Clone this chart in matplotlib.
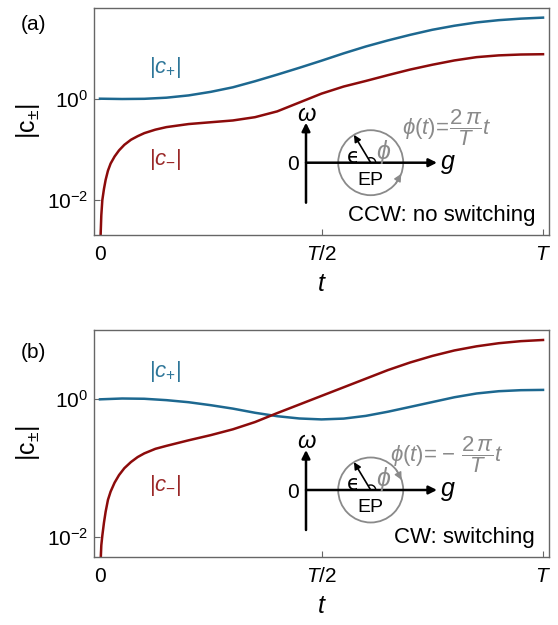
import numpy as np
import matplotlib
matplotlib.use('Agg')
import matplotlib.pyplot as plt
from matplotlib.patches import Circle, Arc

plt.rcParams['font.family'] = ['Liberation Sans', 'DejaVu Sans']
plt.rcParams['mathtext.fontset'] = 'custom'
plt.rcParams['mathtext.rm'] = 'Liberation Sans'
plt.rcParams['mathtext.it'] = 'Liberation Sans:italic'
plt.rcParams['mathtext.fallback'] = 'stixsans'

# time in units of T
t_plus = [0.0, 0.05, 0.10, 0.15, 0.20, 0.25, 0.30, 0.35, 0.40, 0.45, 0.50,
          0.55, 0.60, 0.65, 0.70, 0.75, 0.80, 0.85, 0.90, 0.95, 1.0]

# (a) counter-clockwise loop
c_plus_a = [1.000, 0.986, 0.995, 1.047, 1.161, 1.365, 1.679, 2.213, 2.985, 4.074, 5.623,
            7.852, 10.72, 14.13, 18.20, 22.91, 27.54, 31.99, 35.48, 38.02, 39.81]

t_minus_a = [0.0008, 0.0015, 0.003, 0.0053, 0.009, 0.0128, 0.018, 0.024, 0.033, 0.043,
             0.055, 0.07, 0.085, 0.10, 0.125, 0.15, 0.20, 0.25, 0.30, 0.35, 0.40,
             0.45, 0.50, 0.55, 0.60, 0.65, 0.70, 0.75, 0.80, 0.85, 0.90, 0.95, 1.0]
c_minus_a = [0.0010, 0.00209, 0.00501, 0.0100, 0.0166, 0.0251, 0.0380, 0.0525, 0.0724, 0.0955,
             0.123, 0.155, 0.182, 0.209, 0.245, 0.275, 0.316, 0.343, 0.372, 0.432, 0.562,
             0.841, 1.259, 1.738, 2.239, 2.917, 3.758, 4.677, 5.689, 6.607, 7.161, 7.447, 7.551]

# (b) clockwise loop
c_plus_b = [1.000, 1.028, 1.019, 0.973, 0.908, 0.822, 0.733, 0.638, 0.569, 0.527, 0.511,
            0.525, 0.575, 0.661, 0.776, 0.912, 1.072, 1.216, 1.312, 1.358, 1.371]

t_minus_b = [0.0008, 0.0015, 0.003, 0.0053, 0.009, 0.0128, 0.018, 0.024, 0.033, 0.043,
             0.055, 0.07, 0.085, 0.10, 0.125, 0.15, 0.20, 0.25, 0.30, 0.35, 0.40,
             0.45, 0.50, 0.55, 0.60, 0.65, 0.70, 0.75, 0.80, 0.85, 0.90, 0.95, 1.0]
c_minus_b = [0.00200, 0.00447, 0.00759, 0.0105, 0.0162, 0.0234, 0.0347, 0.0457, 0.0617, 0.0794,
             0.100, 0.123, 0.145, 0.164, 0.191, 0.211, 0.254, 0.302, 0.367, 0.468, 0.631,
             0.841, 1.122, 1.496, 1.995, 2.661, 3.428, 4.266, 5.129, 5.888, 6.531, 6.998, 7.278]

xticks = [0, 0.5, 1.0]
xticklabels = ['0', r'$T/2$', r'$T$']
yticks = [1e-2, 1e0]
yticklabels = [r'$10^{-2}$', r'$10^{0}$']

BLUE = '#1d6890'
RED = '#8c0b0b'
BLUE_LBL = '#2e7699'
RED_LBL = '#9a2828'
GRAY = '#8a8a8a'
FRAME = '#666666'

W, H = 558, 625
fig = plt.figure(figsize=(W / 100, H / 100), dpi=100)


def make_axes(top_px, ylo, yhi):
    ax = fig.add_axes([94 / W, 1 - (top_px + 227) / H, 455 / W, 227 / H])
    ax.set_yscale('log')
    ax.set_xlim(-0.0135, 1.0135)
    ax.set_ylim(ylo, yhi)
    ax.set_xticks(xticks)
    ax.set_xticklabels(xticklabels)
    ax.set_yticks(yticks)
    ax.set_yticklabels(yticklabels)
    ax.yaxis.set_minor_locator(matplotlib.ticker.NullLocator())
    ax.tick_params(direction='in', length=4, width=0.8, color=FRAME, labelsize=15)
    ax.tick_params(axis='x', pad=7)
    ax.tick_params(axis='y', pad=4)
    for s in ax.spines.values():
        s.set_color(FRAME)
        s.set_linewidth(1.0)
    ax.set_xlabel(r'$t$', fontsize=18, labelpad=6)
    ax.set_ylabel(r'$|\mathrm{c}_{\pm}|$', fontsize=18, labelpad=4)
    return ax


ax_a = make_axes(8, 10 ** -2.69, 10 ** 1.79)
ax_a.plot(t_plus, c_plus_a, color=BLUE, lw=1.8)
ax_a.plot(t_minus_a, c_minus_a, color=RED, lw=1.8)

ax_b = make_axes(330, 10 ** -2.29, 10 ** 1.007)
ax_b.plot(t_plus, c_plus_b, color=BLUE, lw=1.8)
ax_b.plot(t_minus_b, c_minus_b, color=RED, lw=1.8)

# overlay in pixel coordinates for the annotations
ov = fig.add_axes([0, 0, 1, 1])
ov.set_xlim(0, W)
ov.set_ylim(H, 0)
ov.axis('off')
ov.patch.set_alpha(0)


def arrow(x0, y0, x1, y1, color='black', lw=1.8, ms=12):
    ov.annotate('', xy=(x1, y1), xytext=(x0, y0),
                arrowprops=dict(arrowstyle='-|>', color=color, lw=lw,
                                mutation_scale=ms, shrinkA=0, shrinkB=0))


def diagram(ox, oy, ccw, formula):
    arrow(ox, oy + 40, ox, oy - 40)
    arrow(ox, oy, ox + 131, oy)
    ov.text(ox + 1, oy - 48, r'$\omega$', fontsize=17, ha='center', va='center')
    ov.text(ox - 13, oy + 2, '0', fontsize=15, ha='center', va='center')
    ov.text(ox + 142, oy + 1, r'$g$', fontsize=18, ha='center', va='center')
    cx, cy, r = ox + 64.7, oy, 32.5
    ov.add_patch(Circle((cx, cy), r, fill=False, ec=GRAY, lw=1.3))
    ang = np.deg2rad(121)
    arrow(cx, cy, cx + r * np.cos(ang), cy - r * np.sin(ang), lw=1.2, ms=10)
    ov.add_patch(Arc((cx, cy), 10, 10, theta1=-121, theta2=0, color='black', lw=1.0))
    ov.text(cx - 17, cy - 6, '\u03f5', fontsize=15, ha='center', va='center',
            family=['DejaVu Sans'])
    ov.text(cx + 13, cy - 11, r'$\phi$', fontsize=18, ha='center', va='center', color=GRAY)
    ov.text(cx, cy + 18, 'EP', fontsize=14, ha='center', va='center')
    # direction head on the loop
    if ccw:
        a0, a1 = np.deg2rad(-40), np.deg2rad(-20)
    else:
        a0, a1 = np.deg2rad(38), np.deg2rad(18)
    arrow(cx + r * np.cos(a0), cy - r * np.sin(a0),
          cx + r * np.cos(a1), cy - r * np.sin(a1), color=GRAY, lw=1.0, ms=11)
    ov.text(cx + 76, cy - 35, formula, fontsize=16, ha='center', va='center', color=GRAY)


diagram(306, 162.7, True, r'$\phi(t)\!=\!\dfrac{2\,\pi}{T}t$')
diagram(306, 490, False, r'$\phi(t)\!=\!-\,\dfrac{2\,\pi}{T}t$')

ov.text(535, 216, 'CCW: no switching', fontsize=16, ha='right', va='center')
ov.text(535, 538, 'CW: switching', fontsize=16, ha='right', va='center')

ov.text(33, 25, '(a)', fontsize=15, ha='center', va='center')
ov.text(33, 352, '(b)', fontsize=15, ha='center', va='center')

ov.text(165, 67, r'$|c_{+}|$', fontsize=16, ha='center', va='center', color=BLUE_LBL)
ov.text(165, 159, r'$|c_{-}|$', fontsize=16, ha='center', va='center', color=RED_LBL)
ov.text(165, 372, r'$|c_{+}|$', fontsize=16, ha='center', va='center', color=BLUE_LBL)
ov.text(165, 485, r'$|c_{-}|$', fontsize=16, ha='center', va='center', color=RED_LBL)

fig.savefig('out.png', dpi=100)
